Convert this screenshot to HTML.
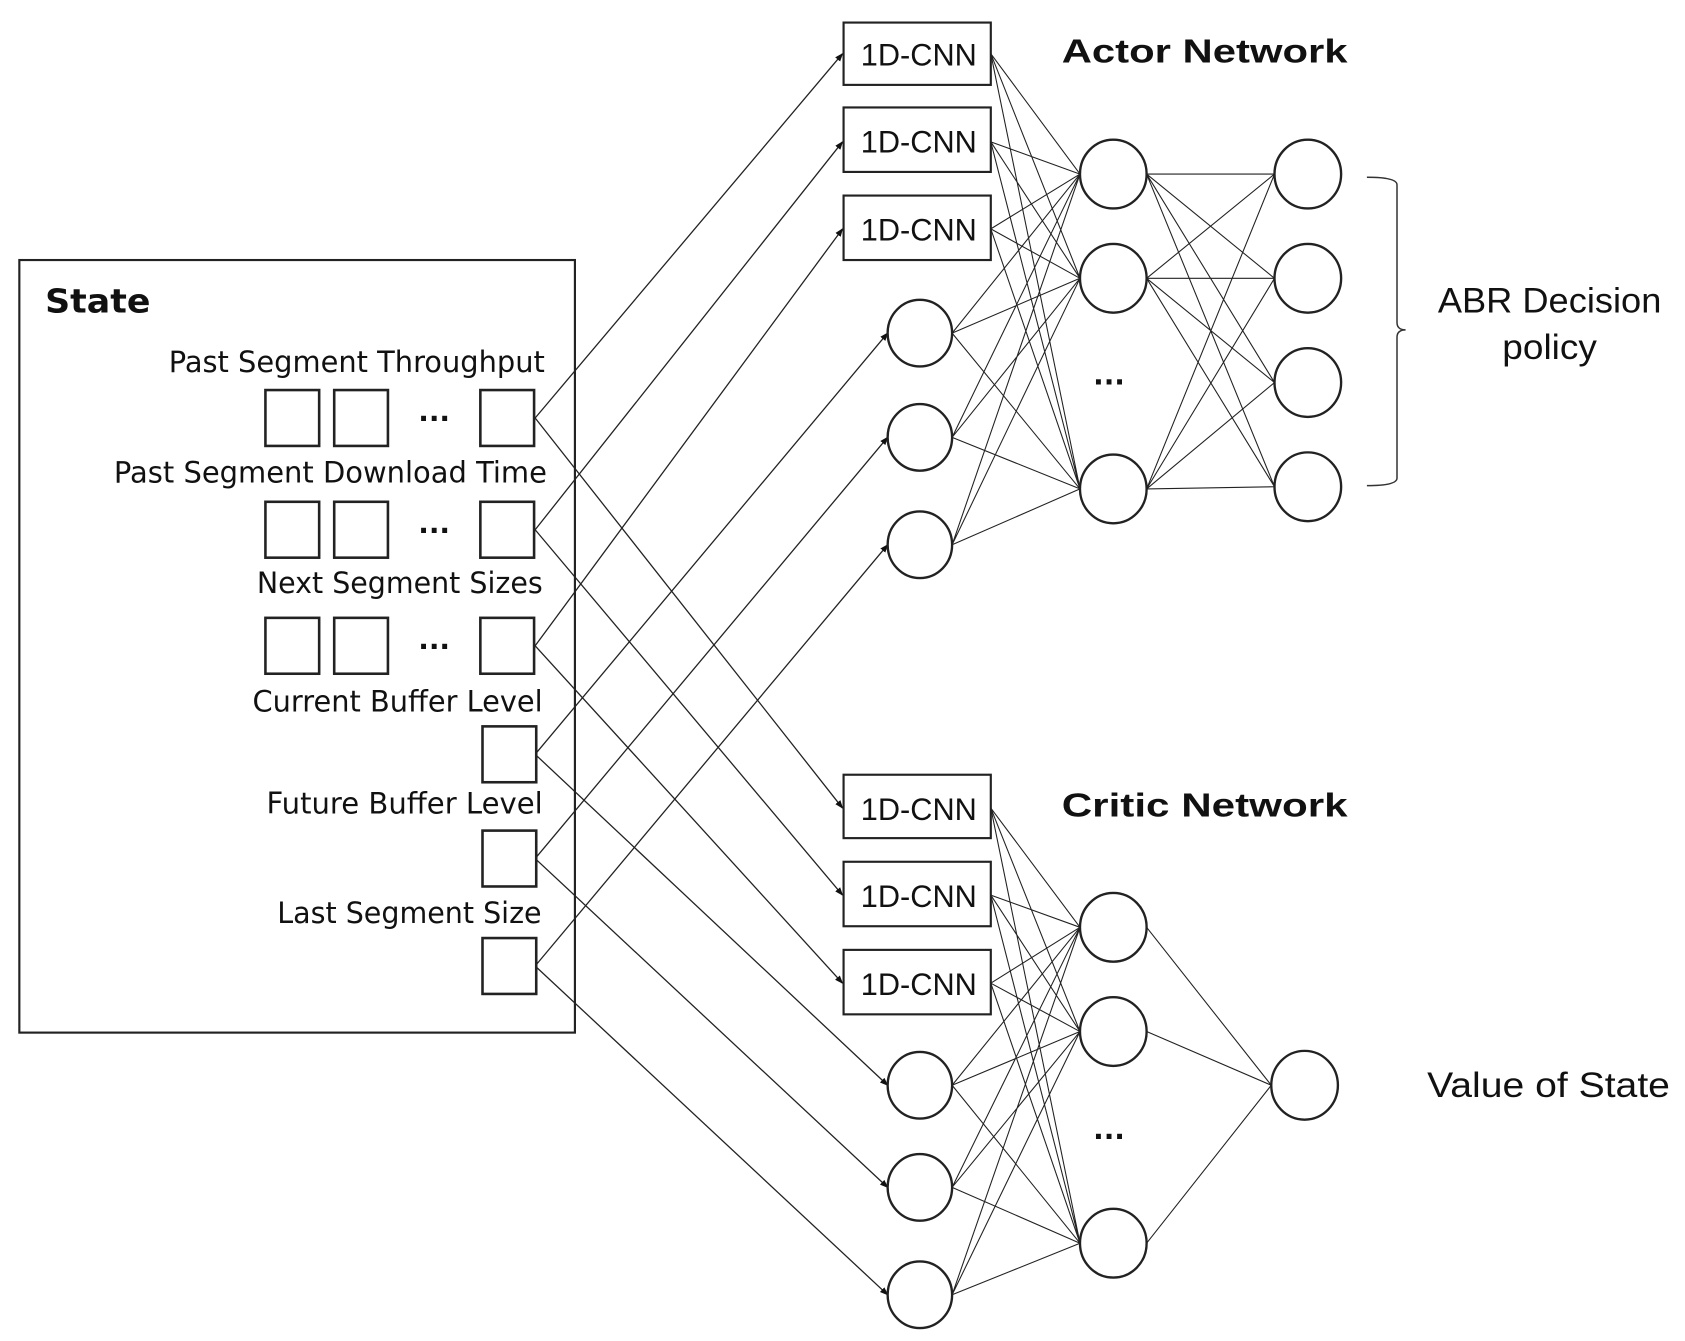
<!DOCTYPE html>
<html><head><style>html,body{margin:0;padding:0;background:#fff}svg{display:block}</style></head>
<body>
<svg width="1685" height="1341" viewBox="0 0 1568 1248" preserveAspectRatio="none" xmlns="http://www.w3.org/2000/svg" font-family="'DejaVu Sans','Liberation Sans',sans-serif">
<defs><marker id="a" markerWidth="8" markerHeight="8" refX="7" refY="4" orient="auto" markerUnits="userSpaceOnUse"><path d="M0,1 L8,4 L0,7 z" fill="#111"/></marker></defs>
<g stroke="#222" stroke-width="1.2" fill="none">
<line x1="498" y1="389" x2="784" y2="50" marker-end="url(#a)"/>
<line x1="498" y1="493" x2="784" y2="132" marker-end="url(#a)"/>
<line x1="498" y1="601" x2="784" y2="213" marker-end="url(#a)"/>
<line x1="498" y1="702" x2="826" y2="310" marker-end="url(#a)"/>
<line x1="498" y1="799" x2="826" y2="407" marker-end="url(#a)"/>
<line x1="498" y1="899" x2="826" y2="507" marker-end="url(#a)"/>
<line x1="498" y1="389" x2="784" y2="752" marker-end="url(#a)"/>
<line x1="498" y1="493" x2="784" y2="833" marker-end="url(#a)"/>
<line x1="498" y1="601" x2="784" y2="915" marker-end="url(#a)"/>
<line x1="498" y1="702" x2="826" y2="1010" marker-end="url(#a)"/>
<line x1="498" y1="799" x2="826" y2="1105" marker-end="url(#a)"/>
<line x1="498" y1="899" x2="826" y2="1205" marker-end="url(#a)"/>
</g>
<g stroke="#222" stroke-width="1" fill="none">
<path d="M922 50L1005 162M922 50L1005 259M922 50L1005 455
M922 132L1005 162M922 132L1005 259M922 132L1005 455
M922 213L1005 162M922 213L1005 259M922 213L1005 455
M886 310L1005 162M886 310L1005 259M886 310L1005 455
M886 407L1005 162M886 407L1005 259M886 407L1005 455
M886 507L1005 162M886 507L1005 259M886 507L1005 455
M1067 162L1186 162M1067 162L1186 259M1067 162L1186 356M1067 162L1186 453
M1067 259L1186 162M1067 259L1186 259M1067 259L1186 356M1067 259L1186 453
M1067 455L1186 162M1067 455L1186 259M1067 455L1186 356M1067 455L1186 453"/>
<path d="M922 752L1005 863M922 752L1005 960M922 752L1005 1157
M922 833L1005 863M922 833L1005 960M922 833L1005 1157
M922 915L1005 863M922 915L1005 960M922 915L1005 1157
M886 1010L1005 863M886 1010L1005 960M886 1010L1005 1157
M886 1105L1005 863M886 1105L1005 960M886 1105L1005 1157
M886 1205L1005 863M886 1205L1005 960M886 1205L1005 1157
M1067 863L1183 1010M1067 960L1183 1010M1067 1157L1183 1010"/>
</g>
<rect x="18" y="242" width="517" height="719" fill="none" stroke="#222" stroke-width="2"/>
<text x="42" y="291" font-size="31" font-weight="bold" fill="#111" textLength="98" lengthAdjust="spacingAndGlyphs">State</text>
<g font-size="27" fill="#111" text-anchor="end" lengthAdjust="spacingAndGlyphs">
<text x="507" y="346" textLength="350" lengthAdjust="spacingAndGlyphs">Past Segment Throughput</text>
<text x="509" y="449" textLength="403" lengthAdjust="spacingAndGlyphs">Past Segment Download Time</text>
<text x="505" y="552" textLength="266" lengthAdjust="spacingAndGlyphs">Next Segment Sizes</text>
<text x="505" y="662" textLength="270" lengthAdjust="spacingAndGlyphs">Current Buffer Level</text>
<text x="505" y="757" textLength="257" lengthAdjust="spacingAndGlyphs">Future Buffer Level</text>
<text x="504" y="859" textLength="246" lengthAdjust="spacingAndGlyphs">Last Segment Size</text>
</g>
<g fill="#fff" stroke="#222" stroke-width="2.4">
<rect x="247" y="363" width="50" height="52"/><rect x="311" y="363" width="50" height="52"/><rect x="447" y="363" width="50" height="52"/>
<rect x="247" y="467" width="50" height="52"/><rect x="311" y="467" width="50" height="52"/><rect x="447" y="467" width="50" height="52"/>
<rect x="247" y="575" width="50" height="52"/><rect x="311" y="575" width="50" height="52"/><rect x="447" y="575" width="50" height="52"/>
<rect x="449" y="676" width="50" height="52"/>
<rect x="449" y="773" width="50" height="52"/>
<rect x="449" y="873" width="50" height="52"/>
</g>
<g font-size="26" font-weight="bold" fill="#111" text-anchor="middle">
<text x="404" y="392">...</text><text x="404" y="496">...</text><text x="404" y="604">...</text>
<text x="1032" y="358">...</text><text x="1032" y="1060">...</text>
</g>
<g fill="#fff" stroke="#222" stroke-width="2">
<rect x="785" y="21" width="137" height="58"/><rect x="785" y="100" width="137" height="60"/><rect x="785" y="182" width="137" height="60"/>
<rect x="785" y="721" width="137" height="59"/><rect x="785" y="802" width="137" height="60"/><rect x="785" y="884" width="137" height="60"/>
</g>
<g font-size="29" fill="#111" text-anchor="middle" font-family="'Liberation Sans',sans-serif">
<text x="855" y="61" textLength="108" lengthAdjust="spacingAndGlyphs">1D-CNN</text>
<text x="855" y="142" textLength="108" lengthAdjust="spacingAndGlyphs">1D-CNN</text>
<text x="855" y="224" textLength="108" lengthAdjust="spacingAndGlyphs">1D-CNN</text>
<text x="855" y="763" textLength="108" lengthAdjust="spacingAndGlyphs">1D-CNN</text>
<text x="855" y="844" textLength="108" lengthAdjust="spacingAndGlyphs">1D-CNN</text>
<text x="855" y="926" textLength="108" lengthAdjust="spacingAndGlyphs">1D-CNN</text>
</g>
<g fill="#fff" stroke="#222" stroke-width="2.2">
<ellipse cx="856" cy="310" rx="30" ry="31"/><ellipse cx="856" cy="407" rx="30" ry="31"/><ellipse cx="856" cy="507" rx="30" ry="31"/>
<ellipse cx="1036" cy="162" rx="31" ry="32"/><ellipse cx="1036" cy="259" rx="31" ry="32"/><ellipse cx="1036" cy="455" rx="31" ry="32"/>
<ellipse cx="1217" cy="162" rx="31" ry="32"/><ellipse cx="1217" cy="259" rx="31" ry="32"/><ellipse cx="1217" cy="356" rx="31" ry="32"/><ellipse cx="1217" cy="453" rx="31" ry="32"/>
<ellipse cx="856" cy="1010" rx="30" ry="31"/><ellipse cx="856" cy="1105" rx="30" ry="31"/><ellipse cx="856" cy="1205" rx="30" ry="31"/>
<ellipse cx="1036" cy="863" rx="31" ry="32"/><ellipse cx="1036" cy="960" rx="31" ry="32"/><ellipse cx="1036" cy="1157" rx="31" ry="32"/>
<ellipse cx="1214" cy="1010" rx="31" ry="32"/>
</g>
<path d="M1272 165 Q1300 165 1300 172 L1300 300 Q1300 307 1308 307 Q1300 307 1300 314 L1300 445 Q1300 452 1272 452" fill="none" stroke="#333" stroke-width="1.4"/>
<g font-family="'Liberation Sans',sans-serif" fill="#111">
<text x="988" y="58" font-size="31" font-weight="bold" textLength="266" lengthAdjust="spacingAndGlyphs">Actor Network</text>
<text x="988" y="760" font-size="31" font-weight="bold" textLength="266" lengthAdjust="spacingAndGlyphs">Critic Network</text>
<text x="1442" y="291" font-size="33" text-anchor="middle" textLength="208" lengthAdjust="spacingAndGlyphs">ABR Decision</text>
<text x="1442" y="334" font-size="33" text-anchor="middle" textLength="88" lengthAdjust="spacingAndGlyphs">policy</text>
<text x="1328" y="1021" font-size="33" textLength="226" lengthAdjust="spacingAndGlyphs">Value of State</text>
</g>
</svg>
</body></html>
